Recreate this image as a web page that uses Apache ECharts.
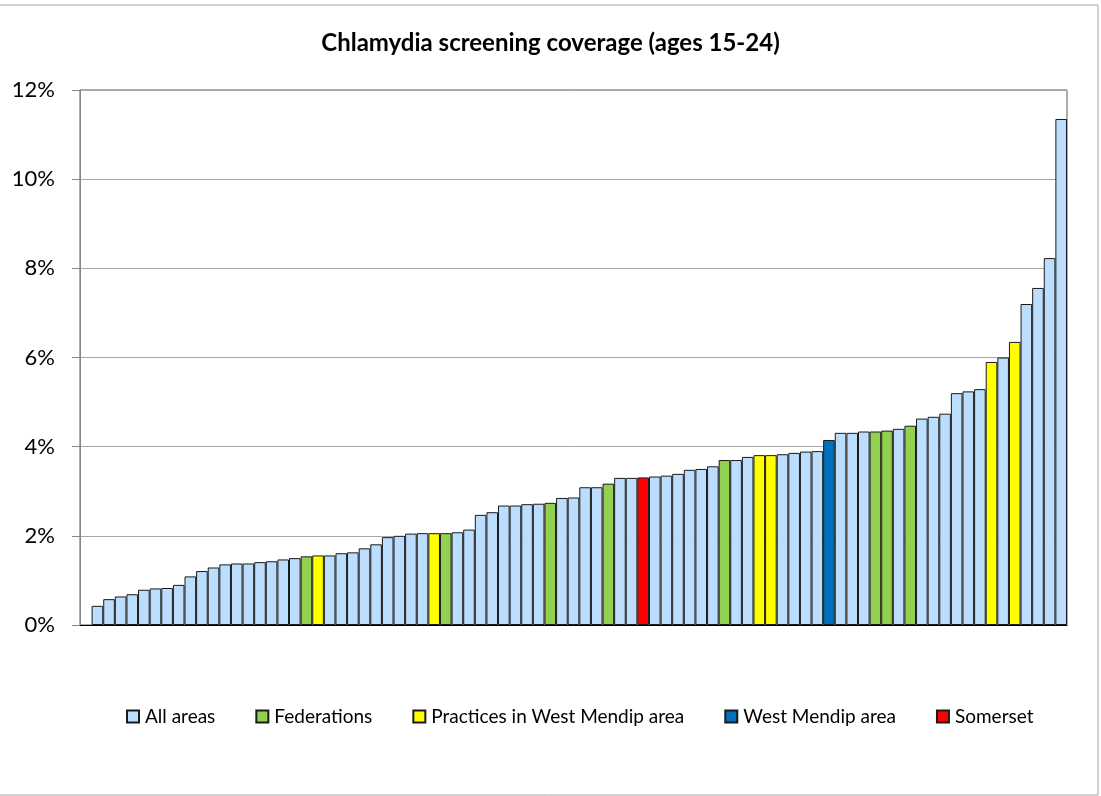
<!DOCTYPE html>
<html>
<head>
<meta charset="utf-8">
<title>Chlamydia screening coverage</title>
<script src="https://cdn.jsdelivr.net/npm/echarts@6/dist/echarts.min.js"></script>
<style>
  html, body { margin: 0; padding: 0; background: #fff; }
  #chart { width: 1101px; height: 796px; }
</style>
</head>
<body>
<div id="chart"></div>
<script>
// coverage per area (%), sorted ascending
var coverage = [
    0.43, 0.58, 0.64, 0.69, 0.79, 0.82, 0.83, 0.90, 1.09, 1.21,
    1.29, 1.36, 1.38, 1.38, 1.41, 1.43, 1.47, 1.50, 1.54, 1.56,
    1.56, 1.61, 1.63, 1.72, 1.81, 1.97, 2.00, 2.05, 2.06, 2.06,
    2.06, 2.08, 2.14, 2.47, 2.53, 2.68, 2.68, 2.71, 2.72, 2.74,
    2.85, 2.86, 3.09, 3.09, 3.17, 3.30, 3.30, 3.31, 3.33, 3.35,
    3.39, 3.48, 3.50, 3.56, 3.70, 3.70, 3.77, 3.81, 3.81, 3.83,
    3.86, 3.89, 3.90, 4.15, 4.31, 4.31, 4.34, 4.34, 4.36, 4.40,
    4.47, 4.63, 4.67, 4.74, 5.20, 5.24, 5.29, 5.90, 6.00, 6.35,
    7.20, 7.56, 8.23, 11.35
];

// bar positions (1-based) of the highlighted groups
var federations = [19, 31, 40, 45, 55, 68, 69, 71];
var practices = [20, 30, 58, 59, 78, 80];
var westMendip = [64];
var somerset = [48];

var seriesNames = ['All areas', 'Federations', 'Practices in West Mendip area', 'West Mendip area', 'Somerset'];
var seriesColors = ['#BBDEFF', '#92D050', '#FFFF00', '#0070C0', '#FF0000'];
var yTicks = [0, 2, 4, 6, 8, 10, 12];

// first category is left empty, like the original sheet
var categories = [''];
coverage.forEach(function (v, i) { categories.push('Area ' + (i + 1)); });

function groupOf(pos) {
    if (federations.indexOf(pos) >= 0) return 1;
    if (practices.indexOf(pos) >= 0) return 2;
    if (westMendip.indexOf(pos) >= 0) return 3;
    if (somerset.indexOf(pos) >= 0) return 4;
    return 0;
}

var series = seriesNames.map(function (name, g) {
    var data = ['-'];
    coverage.forEach(function (v, i) {
        data.push(groupOf(i + 1) === g ? v : '-');
    });
    return {
        name: name,
        type: 'bar',
        stack: 'cov',
        barCategoryGap: '0%',
        data: data,
        itemStyle: {
            color: seriesColors[g],
            borderColor: '#1a1a1a',
            borderWidth: 1
        },
        emphasis: { disabled: true }
    };
});

var chart = echarts.init(document.getElementById('chart'));
var option = {
    animation: false,
    textStyle: { fontFamily: 'Lato' },
    title: {
        text: 'Chlamydia screening coverage (ages 15-24)',
        left: 'center',
        top: 26,
        textStyle: { fontFamily: 'Lato', fontWeight: 'bold', fontSize: 24, color: '#000' }
    },
    legend: {
        data: seriesNames,
        left: 121,
        top: 702,
        itemWidth: 12,
        itemHeight: 12,
        itemGap: 40,
        icon: 'rect',
        textStyle: { fontFamily: 'Lato', fontSize: 19, color: '#000', padding: [0, 0, 0, 1] }
    },
    grid: {
        left: 80,
        right: 34,
        top: 90,
        bottom: 171,
        show: true,
        borderColor: '#595959',
        borderWidth: 1
    },
    xAxis: {
        type: 'category',
        data: categories,
        axisLine: { lineStyle: { color: '#000' } },
        axisTick: { show: false },
        axisLabel: { show: false }
    },
    yAxis: {
        type: 'value',
        min: yTicks[0],
        max: yTicks[yTicks.length - 1],
        interval: 2,
        axisLine: { show: true, lineStyle: { color: '#868686' } },
        axisTick: { show: true, length: 8, lineStyle: { color: '#868686' } },
        axisLabel: {
            formatter: '{value}%',
            margin: 25,
            fontFamily: 'Lato',
            fontSize: 22,
            color: '#000'
        },
        splitLine: { lineStyle: { color: '#A6A6A6' } }
    },
    graphic: [{
        type: 'rect',
        shape: { x: -2, y: 5, width: 1100, height: 790 },
        style: { fill: null, stroke: '#A6A6A6', lineWidth: 1 },
        silent: true
    }],
    series: series
};
chart.setOption(option);
window.onresize = function () {
    chart.resize();
};
</script>
</body>
</html>
